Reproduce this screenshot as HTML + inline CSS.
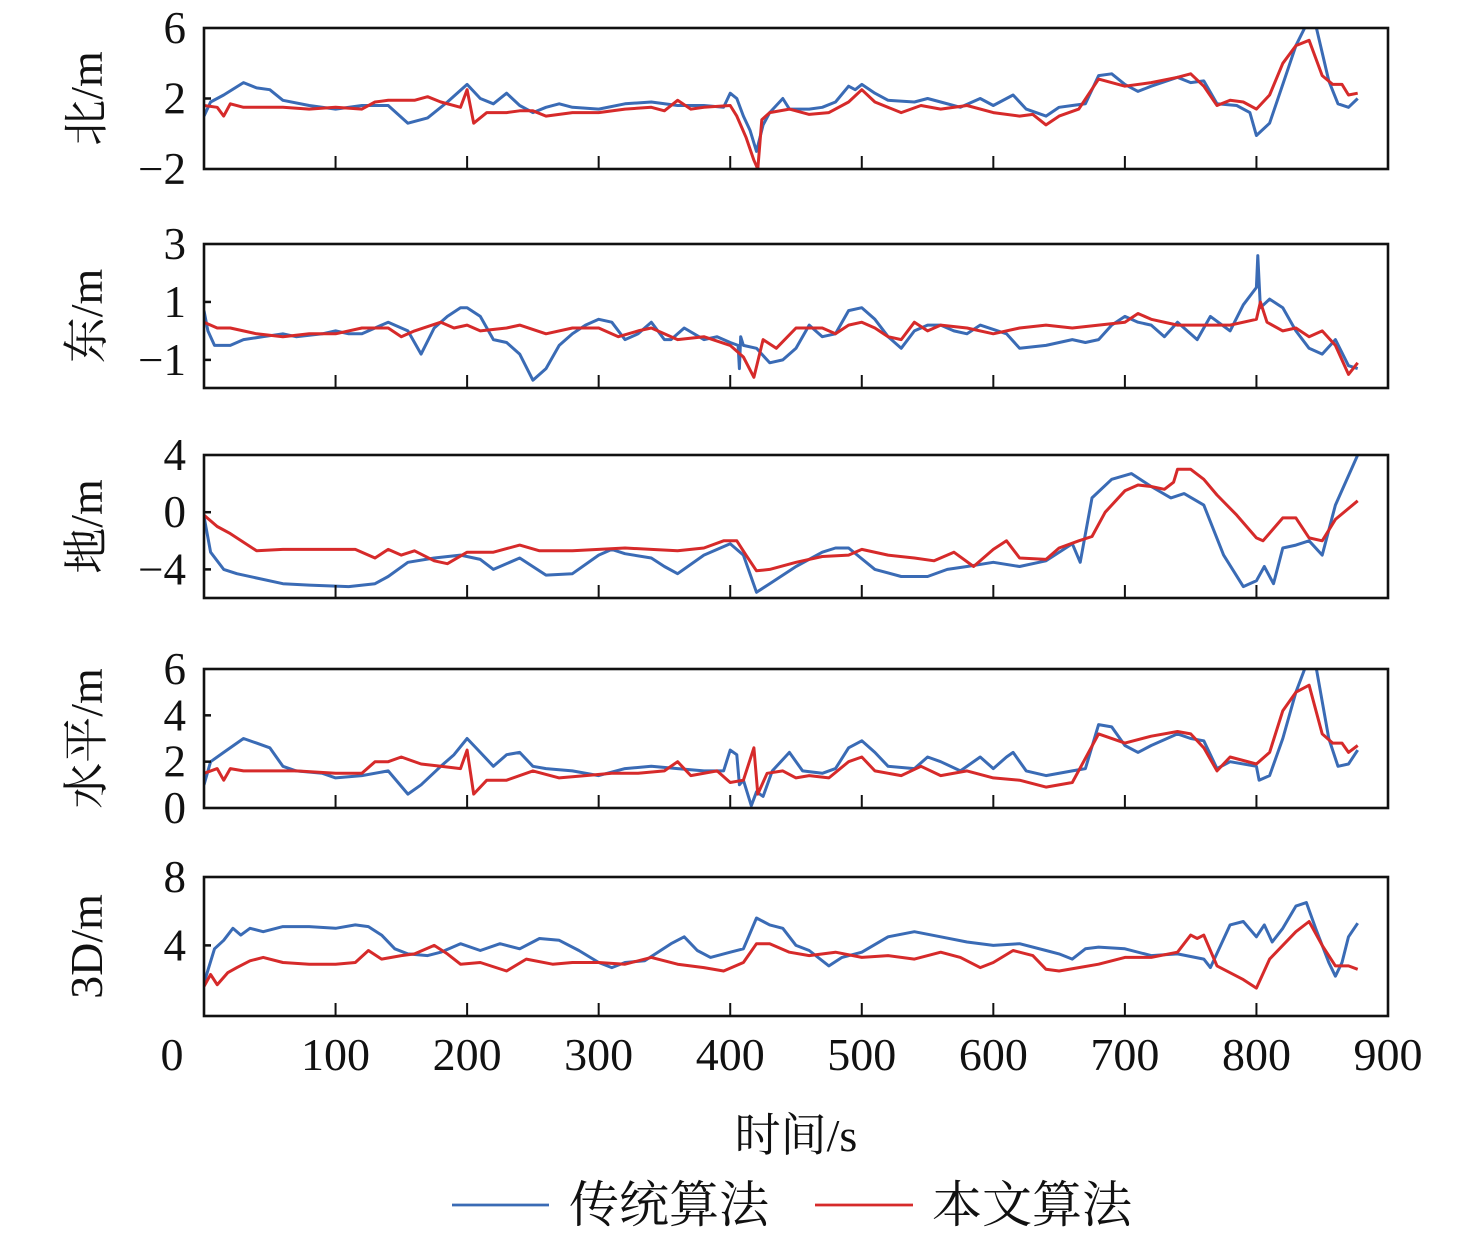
<!DOCTYPE html>
<html><head><meta charset="utf-8">
<style>
html,body{margin:0;padding:0;background:#fff;}
svg{display:block;}
text{font-family:"Liberation Serif","Noto Serif CJK SC",serif;fill:#111;}
</style></head>
<body>
<svg id="chart" width="1476" height="1235" viewBox="0 0 1476 1235"></svg>
<script>
// x axis
const xTicks=[0,100,200,300,400,500,600,700,800,900];
// panel 1 北
const tN_b=[0,5,15,30,40,50,60,80,100,120,140,155,170,185,200,210,220,230,240,250,260,270,280,300,320,340,360,380,395,400,405,410,415,420,425,430,440,445,460,470,480,490,495,500,510,520,540,550,560,575,590,600,610,615,625,640,650,660,670,680,690,700,710,720,740,750,760,770,785,795,800,810,820,830,838,845,855,862,870,877];
const vN_b=[1.0,1.8,2.2,2.9,2.6,2.5,1.9,1.6,1.4,1.6,1.6,0.6,0.9,1.8,2.8,2.0,1.7,2.3,1.6,1.2,1.5,1.7,1.5,1.4,1.7,1.8,1.6,1.6,1.5,2.3,2.0,1.0,0.2,-1.0,0.5,1.2,2.0,1.4,1.4,1.5,1.8,2.7,2.5,2.8,2.3,1.9,1.8,2.0,1.8,1.5,2.0,1.6,2.0,2.2,1.4,1.0,1.5,1.6,1.7,3.3,3.4,2.8,2.4,2.7,3.2,2.9,3.0,1.7,1.6,1.2,-0.1,0.6,2.8,5.0,6.2,6.2,3.0,1.7,1.5,2.0];
const tN_r=[0,10,15,20,30,40,60,80,100,120,130,140,160,170,180,195,200,205,215,230,240,250,260,280,300,320,340,350,360,370,380,400,405,412,418,421,424,430,445,460,475,490,500,510,530,545,560,580,600,620,630,640,650,665,680,700,720,740,750,760,770,780,790,800,810,820,830,840,850,858,865,870,877];
const vN_r=[1.6,1.5,1.0,1.7,1.5,1.5,1.5,1.4,1.5,1.4,1.8,1.9,1.9,2.1,1.8,1.5,2.5,0.6,1.2,1.2,1.3,1.3,1.0,1.2,1.2,1.4,1.5,1.3,1.9,1.4,1.5,1.6,1.0,-0.2,-1.5,-2.0,0.8,1.2,1.4,1.1,1.2,1.8,2.5,1.8,1.2,1.6,1.4,1.6,1.2,1.0,1.1,0.5,1.0,1.4,3.1,2.7,2.9,3.2,3.4,2.7,1.6,1.9,1.8,1.4,2.2,4.0,5.0,5.3,3.3,2.8,2.8,2.2,2.3];
// panel 2 东
const tE_b=[0,3,8,20,30,45,60,70,90,100,110,120,140,155,165,175,185,195,200,210,220,230,240,250,260,270,280,290,300,310,320,330,340,350,355,365,380,390,400,406,407,408,410,420,430,440,450,460,470,480,490,500,510,520,530,540,550,560,570,580,590,610,620,640,660,670,680,690,700,710,720,730,740,755,765,780,790,800,801,803,810,820,830,840,850,860,870,877];
const vE_b=[0.7,0.0,-0.5,-0.5,-0.3,-0.2,-0.1,-0.2,-0.1,0.0,-0.1,-0.1,0.3,0.0,-0.8,0.1,0.5,0.8,0.8,0.5,-0.3,-0.4,-0.8,-1.7,-1.3,-0.5,-0.1,0.2,0.4,0.3,-0.3,-0.1,0.3,-0.3,-0.3,0.1,-0.3,-0.2,-0.4,-0.5,-1.3,-0.2,-0.5,-0.6,-1.1,-1.0,-0.6,0.2,-0.2,-0.1,0.7,0.8,0.4,-0.2,-0.6,0.0,0.2,0.2,0.0,-0.1,0.2,-0.1,-0.6,-0.5,-0.3,-0.4,-0.3,0.2,0.5,0.3,0.2,-0.2,0.3,-0.3,0.5,0.0,0.9,1.5,2.6,0.8,1.1,0.8,0.0,-0.6,-0.8,-0.3,-1.2,-1.3];
const tE_r=[0,10,20,40,60,80,100,120,140,150,160,180,190,200,210,230,240,260,280,300,315,330,340,360,380,400,410,418,425,435,450,470,480,490,500,510,520,530,540,550,560,580,600,620,640,660,680,700,710,720,740,760,780,800,803,808,820,830,840,850,860,870,877];
const vE_r=[0.3,0.1,0.1,-0.1,-0.2,-0.1,-0.1,0.1,0.1,-0.2,0.0,0.3,0.1,0.2,0.0,0.1,0.2,-0.1,0.1,0.1,-0.2,0.0,0.1,-0.3,-0.2,-0.5,-0.9,-1.6,-0.3,-0.6,0.1,0.1,-0.1,0.2,0.3,0.1,-0.2,-0.3,0.3,0.0,0.2,0.1,-0.1,0.1,0.2,0.1,0.2,0.3,0.6,0.4,0.2,0.2,0.2,0.4,1.0,0.3,0.0,0.1,-0.2,0.0,-0.5,-1.5,-1.1];
// panel 3 地
const tD_b=[0,5,15,25,40,60,80,110,130,140,155,175,195,210,220,240,260,280,300,310,320,340,350,360,380,400,410,420,430,450,470,480,490,510,530,550,565,580,600,620,640,660,666,675,690,705,720,735,745,760,775,790,800,806,813,820,830,840,850,860,877];
const vD_b=[-0.3,-2.8,-4.0,-4.3,-4.6,-5.0,-5.1,-5.2,-5.0,-4.5,-3.5,-3.2,-3.0,-3.3,-4.0,-3.2,-4.4,-4.3,-3.0,-2.6,-2.9,-3.2,-3.8,-4.3,-3.0,-2.2,-3.0,-5.6,-5.0,-3.8,-2.8,-2.5,-2.5,-4.0,-4.5,-4.5,-4.0,-3.8,-3.5,-3.8,-3.4,-2.2,-3.5,1.0,2.3,2.7,1.8,1.0,1.3,0.5,-3.0,-5.2,-4.8,-3.8,-5.0,-2.5,-2.3,-2.0,-3.0,0.5,4.0];
const tD_r=[0,10,20,40,60,80,100,115,130,140,150,160,175,185,200,220,240,255,280,300,320,340,360,380,395,405,412,420,430,450,470,490,500,520,540,555,570,585,600,610,620,640,650,665,675,685,700,710,720,730,737,740,750,760,770,785,800,805,820,830,840,850,860,877];
const vD_r=[-0.2,-1.0,-1.5,-2.7,-2.6,-2.6,-2.6,-2.6,-3.2,-2.6,-3.0,-2.7,-3.4,-3.6,-2.8,-2.8,-2.3,-2.7,-2.7,-2.6,-2.5,-2.6,-2.7,-2.5,-2.0,-2.0,-3.0,-4.1,-4.0,-3.5,-3.1,-3.0,-2.6,-3.0,-3.2,-3.4,-2.8,-3.8,-2.6,-2.0,-3.2,-3.3,-2.5,-2.0,-1.7,0.0,1.5,1.9,1.8,1.6,2.1,3.0,3.0,2.3,1.2,-0.2,-1.8,-2.0,-0.4,-0.4,-1.8,-2.0,-0.5,0.8];
// panel 4 水平
const tH_b=[0,5,15,30,40,50,60,70,90,100,120,140,155,165,180,190,200,210,220,230,240,250,260,280,300,320,340,360,380,395,400,405,407,410,416,420,425,432,445,455,470,480,490,500,510,520,540,550,560,575,590,600,610,615,625,640,660,670,680,690,700,710,720,740,750,760,770,780,800,802,810,820,830,838,845,855,862,870,877];
const vH_b=[1.0,2.0,2.4,3.0,2.8,2.6,1.8,1.6,1.5,1.3,1.4,1.6,0.6,1.0,1.8,2.3,3.0,2.4,1.8,2.3,2.4,1.8,1.7,1.6,1.4,1.7,1.8,1.7,1.6,1.6,2.5,2.3,1.0,1.2,0.1,0.7,0.5,1.6,2.4,1.6,1.5,1.7,2.6,2.9,2.4,1.8,1.7,2.2,2.0,1.6,2.2,1.7,2.2,2.4,1.6,1.4,1.6,1.7,3.6,3.5,2.7,2.4,2.7,3.2,3.0,2.9,1.7,2.0,1.8,1.2,1.4,3.0,5.0,6.2,6.2,3.0,1.8,1.9,2.5];
const tH_r=[0,10,15,20,30,40,70,100,120,130,140,150,165,180,195,200,205,215,230,250,270,290,310,330,350,360,370,390,400,410,418,421,428,440,450,460,475,490,500,510,530,545,560,580,600,620,640,660,680,700,720,740,750,760,770,780,800,810,820,830,840,850,858,865,870,877];
const vH_r=[1.5,1.7,1.2,1.7,1.6,1.6,1.6,1.5,1.5,2.0,2.0,2.2,1.9,1.8,1.7,2.5,0.6,1.2,1.2,1.6,1.3,1.4,1.5,1.5,1.6,2.0,1.4,1.6,1.1,1.2,2.6,0.6,1.5,1.6,1.3,1.4,1.3,2.0,2.2,1.6,1.4,1.8,1.4,1.6,1.3,1.2,0.9,1.1,3.2,2.8,3.1,3.3,3.2,2.6,1.6,2.2,1.9,2.4,4.2,5.0,5.3,3.2,2.8,2.8,2.4,2.7];
// panel 5 3D
const t3_b=[0,8,15,22,28,35,45,60,80,100,115,125,135,145,155,170,180,195,210,225,240,255,270,285,300,310,320,335,345,355,365,375,385,400,410,420,430,440,450,460,475,485,500,520,540,560,580,600,620,640,650,660,670,680,700,720,740,760,765,780,790,800,806,812,820,830,838,845,855,860,865,870,877];
const v3_b=[1.8,3.8,4.3,5.0,4.6,5.0,4.8,5.1,5.1,5.0,5.2,5.1,4.6,3.8,3.5,3.4,3.6,4.1,3.7,4.1,3.8,4.4,4.3,3.7,3.0,2.7,3.0,3.1,3.6,4.1,4.5,3.7,3.3,3.6,3.8,5.6,5.2,5.0,4.0,3.7,2.8,3.3,3.6,4.5,4.8,4.5,4.2,4.0,4.1,3.7,3.5,3.2,3.8,3.9,3.8,3.4,3.5,3.2,2.7,5.2,5.4,4.5,5.2,4.2,5.0,6.3,6.5,5.0,3.0,2.2,3.0,4.5,5.3];
const t3_r=[0,5,10,18,25,35,45,60,80,100,115,125,135,150,160,175,185,195,210,230,245,265,280,300,320,340,360,380,395,410,420,430,445,460,480,500,520,540,560,575,590,600,615,630,640,650,665,680,700,720,740,750,755,760,770,790,800,810,830,840,850,860,870,877];
const v3_r=[1.6,2.3,1.7,2.4,2.7,3.1,3.3,3.0,2.9,2.9,3.0,3.7,3.2,3.4,3.5,4.0,3.5,2.9,3.0,2.5,3.2,2.9,3.0,3.0,2.9,3.3,2.9,2.7,2.5,3.0,4.1,4.1,3.6,3.4,3.6,3.3,3.4,3.2,3.6,3.3,2.7,3.0,3.7,3.4,2.6,2.5,2.7,2.9,3.3,3.3,3.6,4.6,4.4,4.6,2.8,2.0,1.5,3.2,4.8,5.4,4.0,2.8,2.8,2.6];

const panels=[
 {name:'north',label:'北/m',top:28,bot:169,min:-2,max:6,ticks:[-2,2,6],tb:tN_b,vb:vN_b,tr:tN_r,vr:vN_r},
 {name:'east',label:'东/m',top:244,bot:388,min:-1.97,max:3,ticks:[-1,1,3],tb:tE_b,vb:vE_b,tr:tE_r,vr:vE_r},
 {name:'down',label:'地/m',top:455,bot:598,min:-6,max:4,ticks:[-4,0,4],tb:tD_b,vb:vD_b,tr:tD_r,vr:vD_r},
 {name:'horizontal',label:'水平/m',top:669,bot:808,min:0,max:6,ticks:[0,2,4,6],tb:tH_b,vb:vH_b,tr:tH_r,vr:vH_r},
 {name:'3d',label:'3D/m',top:877,bot:1016,min:-0.13,max:8,ticks:[4,8],tb:t3_b,vb:v3_b,tr:t3_r,vr:v3_r}
];
const NS='http://www.w3.org/2000/svg';
const svg=document.getElementById('chart');
const X0=204,X1=1388;
const xs=t=>X0+(t-0)/(900-0)*(X1-X0);
function mk(tag,attrs,parent){const e=document.createElementNS(NS,tag);for(const k in attrs)e.setAttribute(k,attrs[k]);(parent||svg).appendChild(e);return e;}
panels.forEach(p=>{
 const ys=v=>p.bot-(v-p.min)/(p.max-p.min)*(p.bot-p.top);
 const g=mk('g',{});
 
 
 const clipId='clip-'+p.name;
 const cp=mk('clipPath',{id:clipId},g);
 mk('rect',{x:X0,y:p.top,width:X1-X0,height:p.bot-p.top},cp);
 [['b','#3a6bb5',p.tb,p.vb],['r','#d62a2a',p.tr,p.vr]].forEach(([k,c,ts,vs])=>{
  const d=ts.map((t,i)=>(i?'L':'M')+xs(t).toFixed(1)+','+ys(vs[i]).toFixed(1)).join('');
  const path=mk('path',{d:d,fill:'none',stroke:c,'stroke-width':3,'stroke-linejoin':'round','clip-path':'url(#'+clipId+')'},g);
  
  
 });
 const fr=mk('rect',{x:X0,y:p.top,width:X1-X0,height:p.bot-p.top,fill:'none',stroke:'#111','stroke-width':2.6},g);
 
 
 xTicks.forEach(t=>{ if(t>0&&t<900){const l=mk('line',{x1:xs(t),x2:xs(t),y1:p.bot,y2:p.bot-13,stroke:'#111','stroke-width':2},g);
  
  }});
 p.ticks.forEach(v=>{
  const y=ys(v);
  if(v>p.min+0.5&&v<p.max-0.5){const l=mk('line',{x1:X0,x2:X0+7,y1:y,y2:y,stroke:'#111','stroke-width':2.5},g);
   
   }
  const tx=mk('text',{x:186,y:y+15,'text-anchor':'end','font-size':45},g);
  tx.textContent=v<0?'\u2212'+Math.abs(v):String(v);
  
  
 });
 const cy=(p.top+p.bot)/2;
 const lb=mk('text',{x:0,y:0,'text-anchor':'middle','font-size':46,transform:'translate(102,'+cy+') rotate(-90)'},g);
 lb.textContent=p.label;
 
 
});
xTicks.forEach(t=>{
 const tx=mk('text',{x:t===0?172:xs(t),y:1070,'text-anchor':'middle','font-size':46});
 tx.textContent=String(t);
 
 
});
const xt=mk('text',{x:796,y:1151,'text-anchor':'middle','font-size':46});
xt.textContent='时间/s';


const lg=mk('g',{});


const l1=mk('line',{x1:452,x2:549,y1:1205,y2:1205,stroke:'#3a6bb5','stroke-width':2.8},lg);


const t1=mk('text',{x:569,y:1222,'font-size':50},lg);
t1.textContent='传统算法';


const l2=mk('line',{x1:815,x2:913,y1:1205,y2:1205,stroke:'#d62a2a','stroke-width':2.8},lg);


const t2=mk('text',{x:932,y:1222,'font-size':50},lg);
t2.textContent='本文算法';


</script>
</body></html>
